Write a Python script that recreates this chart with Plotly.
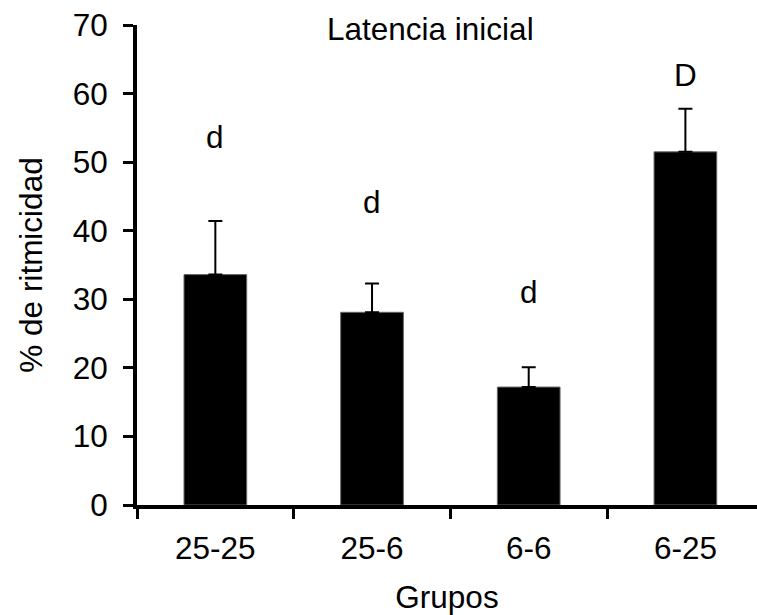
import plotly.graph_objects as go

grupos = ["25-25", "25-6", "6-6", "6-25"]
ritmicidad = [33.6, 28.1, 17.2, 51.5]
error_sup = [7.8, 4.2, 2.9, 6.3]
letras = ["d", "d", "d", "D"]
letras_y = [53.6, 44.2, 31.1, 62.7]
titulo = "Latencia inicial"
y_ticks = [0, 10, 20, 30, 40, 50, 60, 70]

FONT = "Liberation Sans, Arial, sans-serif"
FS = 31.5

fig = go.Figure()
fig.add_trace(go.Bar(
    x=grupos,
    y=ritmicidad,
    width=0.4,
    marker=dict(color="black", line=dict(color="#666666", width=1)),
    error_y=dict(type="data", symmetric=False, array=error_sup,
                 arrayminus=[0] * len(error_sup),
                 color="black", thickness=2, width=7),
    showlegend=False,
))

for g, l, ly in zip(grupos, letras, letras_y):
    fig.add_annotation(x=g, y=ly, text=l, showarrow=False,
                       xref="x", yref="y", yanchor="middle",
                       font=dict(family=FONT, size=FS, color="black"))

fig.add_annotation(x=1.37, y=69.4, text=titulo, showarrow=False,
                   xref="x", yref="y", yanchor="middle",
                   font=dict(family=FONT, size=FS, color="black"))

fig.update_layout(
    width=757, height=615,
    margin=dict(l=137, r=0, t=25, b=110),
    plot_bgcolor="white", paper_bgcolor="white",
    font=dict(family=FONT, size=FS, color="black"),
)
fig.update_xaxes(
    type="category",
    categoryorder="array", categoryarray=grupos,
    range=[-0.5, 3.457],
    showline=True, linecolor="black", linewidth=4,
    ticks="outside", tickson="boundaries", ticklen=10, tickwidth=3, tickcolor="black",
    showgrid=False, zeroline=False,
    ticklabelstandoff=12,
    title=dict(text="Grupos", standoff=22, font=dict(family=FONT, size=FS)),
    tickfont=dict(family=FONT, size=FS),
)
fig.update_yaxes(
    range=[0, 70], tickvals=y_ticks,
    showline=True, linecolor="black", linewidth=4,
    ticks="outside", ticklen=10, tickwidth=3, tickcolor="black",
    showgrid=False, zeroline=False,
    ticklabelstandoff=9,
    title=dict(text="% de ritmicidad", standoff=22, font=dict(family=FONT, size=FS)),
    tickfont=dict(family=FONT, size=FS),
)

fig.write_html("out.html")
